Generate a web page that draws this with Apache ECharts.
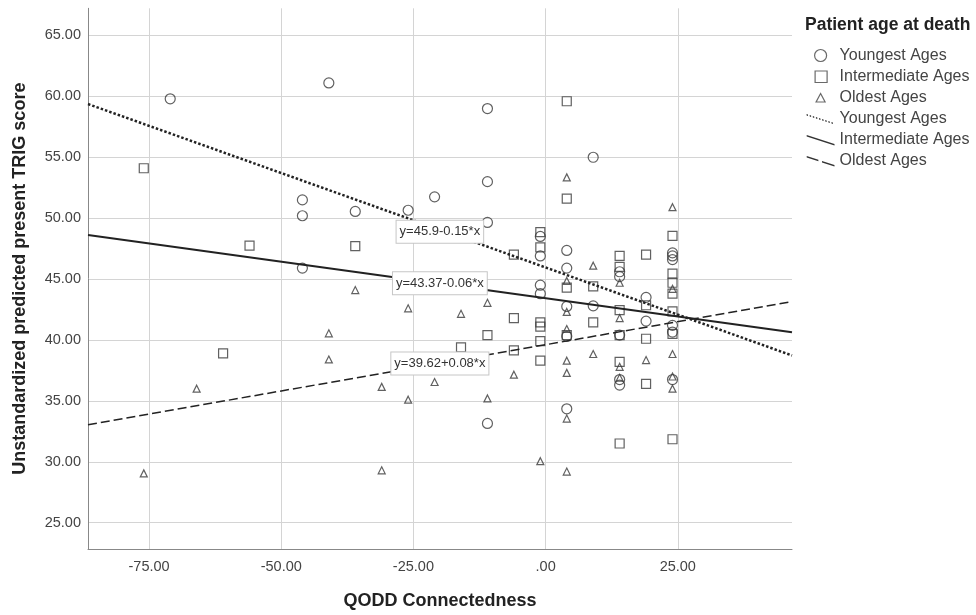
<!DOCTYPE html>
<html><head><meta charset="utf-8">
<script src="https://cdn.jsdelivr.net/npm/echarts@6/dist/echarts.min.js"></script>
<style>html,body{margin:0;padding:0;background:#fff}#c{width:976px;height:615px}</style>
</head><body><div id="c"></div>
<script>
const xTicks = [-75, -50, -25, 0, 25];
const yTicks = [25, 30, 35, 40, 45, 50, 55, 60, 65];
const xRange = [-86.55, 46.6];
const yRange = [22.84, 67.23];

const youngest = [[-71,59.8],[-46,51.5],[-46,50.2],[-46,45.9],[-41,61.1],[-36,50.55],[-26,50.65],[-21,51.75],[-11,59.0],[-11,53.0],[-11,49.65],[-11,33.15],[-1,48.5],[-1,46.9],[-1,44.5],[-1,43.8],[4,47.35],[4,45.9],[4,42.75],[4,40.3],[4,34.35],[9,55.0],[9,42.8],[14,45.6],[14,45.2],[14,40.4],[14,36.75],[14,36.3],[19,43.5],[19,41.55],[24,47.15],[24,46.9],[24,46.6],[24,41.2],[24,40.65],[24,36.75]];
const intermediate = [[-76,54.1],[-61,38.9],[-56,47.75],[-36,47.7],[-16,39.4],[-11,40.4],[-6,47.0],[-6,41.8],[-6,39.15],[-1,48.85],[-1,47.6],[-1,41.45],[-1,41.1],[-1,39.9],[-1,38.3],[4,59.6],[4,51.6],[4,44.3],[4,40.4],[9,44.4],[9,41.45],[14,46.9],[14,46.0],[14,42.45],[14,40.4],[14,38.2],[14,31.5],[19,47.0],[19,42.85],[19,40.1],[19,36.4],[24,48.55],[24,45.45],[24,44.7],[24,43.8],[24,42.35],[24,40.5],[24,31.85]];
const oldest = [[-76,29.05],[-66,36.0],[-41,40.55],[-41,38.4],[-36,44.1],[-31,36.15],[-31,29.3],[-26,42.6],[-26,35.1],[-21,36.55],[-16,42.15],[-11,43.05],[-11,35.2],[-6,37.15],[-1,30.05],[4,53.35],[4,44.85],[4,42.3],[4,40.9],[4,38.3],[4,37.3],[4,33.55],[4,29.2],[9,46.1],[9,38.85],[14,44.7],[14,41.8],[14,37.8],[14,36.9],[19,38.35],[24,50.9],[24,44.2],[24,38.85],[24,37.0],[24,36.0]];

const fitX = [-86.55, 46.6];
const youngestFitY = [59.37, 38.73];
const intermediateFitY = [48.61, 40.63];
const oldestFitY = [33.04, 43.15];

const eqTexts = ['y=45.9-0.15*x', 'y=43.37-0.06*x', 'y=39.62+0.08*x'];
const eqX = [-20, -20, -20];
const eqY = [48.88, 44.65, 38.07];

const groupNames = ['Youngest Ages', 'Intermediate Ages', 'Oldest Ages'];
const legendTitle = 'Patient age at death';
const xName = 'QODD Connectedness';
const yName = 'Unstandardized predicted present TRIG score';

const FONT = 'Liberation Sans, Arial, sans-serif';
const chart = echarts.init(document.getElementById('c'), null, {renderer: 'canvas'});

// legend icons (box 28 x 12, invisible corner moves fix the bounds)
function diagPath(segs) {
  const W = 28, y0s = 1.5, H = 9, t = 1.6;
  let p = 'path://M0,0M28,12';
  segs.forEach(([a, b]) => {
    const x0 = a * W, y0 = y0s + a * H, x1 = b * W, y1 = y0s + b * H;
    p += `M${x0.toFixed(2)},${y0.toFixed(2)}L${x1.toFixed(2)},${y1.toFixed(2)}L${x1.toFixed(2)},${(y1 + t).toFixed(2)}L${x0.toFixed(2)},${(y0 + t).toFixed(2)}Z`;
  });
  return p;
}
const dotSegs = [];
for (let i = 0; i < 9; i++) dotSegs.push([i / 9, i / 9 + 0.05]);
const iconDotted = diagPath(dotSegs);
const iconSolid = diagPath([[0, 1]]);
const iconDashed = diagPath([[0, 0.42], [0.55, 1]]);
const iconSquare = 'path://M0,0M28,12M8.5,0.5L20.5,0.5L20.5,12L8.5,12Z';
const iconTriangle = 'path://M0,0M28,12M14,2L18.5,10.5L9.5,10.5Z';

function pairs(xs, ys) { return xs.map((x, i) => [x, ys[i]]); }

const markerStyle = {color: 'rgba(0,0,0,0)', borderColor: '#3a3a3a', borderWidth: 1.2};
const fitColor = '#222';

function scatter(name, data, symbol, size) {
  return {
    type: 'scatter', name, data, symbol, symbolSize: size,
    itemStyle: markerStyle, z: 3, silent: true
  };
}
function fit(name, ys, lineType, width, label, lx, ly) {
  return {
    type: 'line', name: name + ' ', data: pairs(fitX, ys), symbol: 'none',
    lineStyle: {color: fitColor, width, type: lineType},
    itemStyle: {color: fitColor}, z: 4, silent: true,
    markPoint: {
      symbol: 'rect', symbolSize: 1, itemStyle: {color: 'rgba(0,0,0,0)'},
      label: {
        show: true, position: 'inside', formatter: label,
        fontFamily: FONT, fontSize: 13, color: '#333',
        backgroundColor: '#fff', borderColor: '#c6c6c6', borderWidth: 1,
        padding: [5, 3, 4, 3]
      },
      data: [{coord: [lx, ly]}], z: 6
    }
  };
}

const hollow = {color: 'rgba(0,0,0,0)', borderColor: '#444', borderWidth: 1.2};
const filled = {color: '#333', borderWidth: 0};
const legendData = [
  {name: groupNames[0], icon: 'circle', itemStyle: hollow},
  {name: groupNames[1], icon: iconSquare, itemStyle: hollow},
  {name: groupNames[2], icon: iconTriangle, itemStyle: hollow},
  {name: groupNames[0] + ' ', icon: iconDotted, itemStyle: filled},
  {name: groupNames[1] + ' ', icon: iconSolid, itemStyle: filled},
  {name: groupNames[2] + ' ', icon: iconDashed, itemStyle: filled}
];

const option = {
  backgroundColor: '#fff',
  animation: false,
  title: {
    text: legendTitle, left: 805, top: 16, padding: 0,
    textStyle: {fontFamily: FONT, fontSize: 17.5, fontWeight: 'bold', color: '#222'}
  },
  legend: {
    orient: 'vertical', left: 806, top: 47.5, padding: 0,
    itemWidth: 28, itemHeight: 12, itemGap: 5,
    selectedMode: false,
    formatter: n => n.trim(),
    textStyle: {fontFamily: FONT, fontSize: 16, color: '#444'},
    data: legendData
  },
  grid: {left: 88, right: 184, top: 8.3, bottom: 60.7, containLabel: false},
  xAxis: {
    type: 'value', min: xRange[0], max: xRange[1],
    name: xName, nameLocation: 'middle', nameGap: 43,
    nameTextStyle: {fontFamily: FONT, fontSize: 18, fontWeight: 'bold', color: '#222'},
    axisLine: {show: true, onZero: false, lineStyle: {color: '#888', width: 1}},
    axisTick: {show: false, customValues: xTicks},
    axisLabel: {
      customValues: xTicks, margin: 10, fontFamily: FONT, fontSize: 14.5, color: '#444',
      formatter: v => (v === 0 ? '.00' : v.toFixed(2))
    },
    splitLine: {show: true, lineStyle: {color: '#d4d4d4', width: 1}}
  },
  yAxis: {
    type: 'value', min: yRange[0], max: yRange[1],
    name: yName, nameLocation: 'middle', nameGap: 59,
    nameTextStyle: {fontFamily: FONT, fontSize: 18, fontWeight: 'bold', color: '#222'},
    axisLine: {show: true, onZero: false, lineStyle: {color: '#888', width: 1}},
    axisTick: {show: false, customValues: yTicks},
    axisLabel: {
      customValues: yTicks, margin: 7, fontFamily: FONT, fontSize: 14.5, color: '#444',
      formatter: v => v.toFixed(2)
    },
    splitLine: {show: true, lineStyle: {color: '#d4d4d4', width: 1}}
  },
  series: [
    scatter(groupNames[0], youngest, 'circle', 10),
    scatter(groupNames[1], intermediate, 'rect', 9),
    scatter(groupNames[2], oldest, 'triangle', 7),
    fit(groupNames[0], youngestFitY, [2.5, 2], 2.5, eqTexts[0], eqX[0], eqY[0]),
    fit(groupNames[1], intermediateFitY, 'solid', 2, eqTexts[1], eqX[1], eqY[1]),
    fit(groupNames[2], oldestFitY, [9, 4], 1.5, eqTexts[2], eqX[2], eqY[2])
  ]
};
chart.setOption(option);
</script></body></html>
